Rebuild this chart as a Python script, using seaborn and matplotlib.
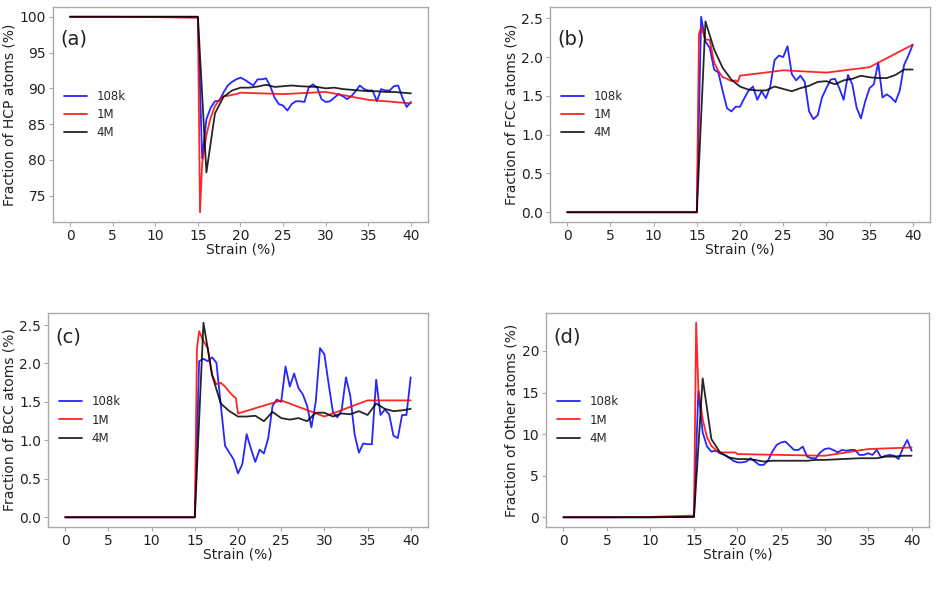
import numpy as np
import pandas as pd
import matplotlib
matplotlib.use("Agg")
import matplotlib.pyplot as plt
import seaborn as sns

# ---------------- data ----------------
x_108k = [0, 5, 10, 15, 15.5, 16, 16.5, 17, 17.5, 18, 18.5, 19, 19.5, 20, 20.5, 21, 21.5, 22,
          22.5, 23, 23.5, 24, 24.5, 25, 25.5, 26, 26.5, 27, 27.5, 28, 28.5, 29, 29.5, 30,
          30.5, 31, 31.5, 32, 32.5, 33, 33.5, 34, 34.5, 35, 35.5, 36, 36.5, 37, 37.5, 38,
          38.5, 39, 39.5, 40]
x_1M = [0, 5, 10, 15, 15.25, 15.5, 16, 16.5, 17, 17.5, 18, 18.5, 19, 19.5, 19.75, 20, 25, 30, 35, 40]
x_4M = [0, 5, 10, 15, 16, 17, 18, 19, 20, 21, 22, 23, 24, 25, 26, 27, 28, 29, 30, 31, 32,
        33, 34, 35, 36, 37, 38, 39, 40]

# (a) HCP
hcp_108k = [100, 100, 100, 100, 80.2, 85.7, 87.3, 88.2, 88.25, 89.4, 90.4, 90.9, 91.26, 91.5,
            91.2, 90.8, 90.4, 91.26, 91.26, 91.4, 90.3, 88.7, 87.8, 87.6, 86.9, 87.8, 88.2,
            88.2, 88.1, 90.1, 90.56, 90.1, 88.5, 88.1, 88.2, 88.7, 89.2, 88.9, 88.5, 88.9,
            89.6, 90.4, 89.9, 89.7, 89.7, 88.2, 89.9, 89.7, 89.7, 90.3, 90.4, 88.7, 87.4, 88.1]
hcp_1M = [100, 100, 99.95, 99.85, 72.7, 79.5, 83.5, 85.9, 87.5, 88.4, 88.9, 88.95, 89.1, 89.2,
          89.3, 89.4, 89.2, 89.5, 88.4, 87.9]
hcp_4M = [100, 100, 100, 100, 78.25, 86.5, 88.8, 89.7, 90.1, 90.1, 90.25, 90.5, 90.2, 90.3,
          90.4, 90.3, 90.25, 90.2, 90.0, 90.1, 89.9, 89.8, 89.7, 89.6, 89.6, 89.5, 89.5, 89.4, 89.3]

# (b) FCC
fcc_108k = [0, 0, 0, 0, 2.52, 2.2, 2.12, 1.84, 1.8, 1.56, 1.34, 1.3, 1.36, 1.36, 1.47, 1.57,
            1.62, 1.45, 1.56, 1.47, 1.62, 1.96, 2.02, 2.0, 2.14, 1.78, 1.7, 1.76, 1.68, 1.3,
            1.2, 1.25, 1.48, 1.6, 1.71, 1.72, 1.6, 1.45, 1.77, 1.65, 1.35, 1.21, 1.43, 1.6,
            1.65, 1.93, 1.48, 1.52, 1.48, 1.42, 1.57, 1.9, 2.02, 2.16]
fcc_1M = [0, 0, 0, 0, 2.3, 2.38, 2.23, 2.22, 1.93, 1.82, 1.74, 1.72, 1.69, 1.7, 1.68, 1.76,
          1.83, 1.8, 1.87, 2.16]
fcc_4M = [0, 0, 0, 0, 2.46, 2.1, 1.86, 1.71, 1.62, 1.58, 1.57, 1.57, 1.62, 1.59, 1.56, 1.6,
          1.63, 1.68, 1.69, 1.65, 1.7, 1.72, 1.76, 1.74, 1.73, 1.73, 1.77, 1.84, 1.84]

# (c) BCC
bcc_108k = [0, 0, 0, 0, 2.03, 2.06, 2.03, 2.08, 2.01, 1.47, 0.93, 0.84, 0.75, 0.57, 0.69, 1.08,
            0.89, 0.72, 0.88, 0.83, 1.03, 1.45, 1.53, 1.5, 1.96, 1.7, 1.87, 1.68, 1.6, 1.45,
            1.17, 1.5, 2.2, 2.12, 1.73, 1.36, 1.3, 1.39, 1.82, 1.58, 1.08, 0.84, 0.96, 0.95,
            0.95, 1.79, 1.33, 1.4, 1.34, 1.06, 1.03, 1.33, 1.33, 1.82]
bcc_1M = [0, 0, 0, 0, 2.2, 2.42, 2.29, 2.2, 1.85, 1.73, 1.75, 1.7, 1.63, 1.57, 1.55, 1.35,
          1.52, 1.31, 1.52, 1.52]
bcc_4M = [0, 0, 0, 0, 2.53, 1.85, 1.48, 1.38, 1.31, 1.31, 1.32, 1.25, 1.37, 1.29, 1.27, 1.29,
          1.25, 1.36, 1.36, 1.31, 1.35, 1.34, 1.38, 1.33, 1.48, 1.41, 1.38, 1.39, 1.41]

# (d) Other
oth_108k = [0, 0, 0, 0.05, 15.2, 10.2, 8.5, 7.9, 8.0, 7.7, 7.5, 7.2, 6.8, 6.6, 6.6, 6.7, 7.1,
            6.7, 6.3, 6.3, 6.8, 7.9, 8.7, 9.0, 9.1, 8.6, 8.1, 8.1, 8.5, 7.3, 7.1, 7.1, 7.8,
            8.2, 8.3, 8.1, 7.8, 8.1, 8.0, 8.1, 8.1, 7.5, 7.5, 7.7, 7.5, 8.1, 7.2, 7.4, 7.5,
            7.4, 7.0, 8.3, 9.3, 8.0]
oth_1M = [0, 0, 0.05, 0.2, 23.4, 15.5, 11.8, 9.6, 8.6, 8.1, 7.8, 7.8, 7.8, 7.8, 7.8, 7.6,
          7.5, 7.4, 8.2, 8.4]
oth_4M = [0, 0, 0, 0.05, 16.7, 9.4, 7.8, 7.2, 7.0, 7.0, 6.9, 6.7, 6.8, 6.8, 6.8, 6.8, 6.8,
          6.9, 6.9, 6.95, 7.0, 7.05, 7.1, 7.1, 7.1, 7.3, 7.3, 7.4, 7.4]

sizes = ["108k", "1M", "4M"]
colors = {"108k": "blue", "1M": "red", "4M": "black"}
panel_letters = ["(a)", "(b)", "(c)", "(d)"]
ylabels = ["Fraction of HCP atoms (%)", "Fraction of FCC atoms (%)",
           "Fraction of BCC atoms (%)", "Fraction of Other atoms (%)"]
panel_data = [(hcp_108k, hcp_1M, hcp_4M), (fcc_108k, fcc_1M, fcc_4M),
              (bcc_108k, bcc_1M, bcc_4M), (oth_108k, oth_1M, oth_4M)]
xgrids = [x_108k, x_1M, x_4M]

# ---------------- plot ----------------
sns.set_style("ticks")
plt.rcParams["font.family"] = ["DejaVu Sans"]
plt.rcParams["axes.edgecolor"] = "#aaaaaa"
plt.rcParams["xtick.color"] = "#aaaaaa"
plt.rcParams["ytick.color"] = "#aaaaaa"
plt.rcParams["xtick.labelcolor"] = "#222222"
plt.rcParams["ytick.labelcolor"] = "#222222"
plt.rcParams["axes.labelcolor"] = "#222222"

fig = plt.figure(figsize=(9.37, 5.95), dpi=100)
positions = [
    [53 / 937, 1 - 222 / 595, 375 / 937, 215 / 595],
    [550 / 937, 1 - 222 / 595, 380 / 937, 215 / 595],
    [48 / 937, 1 - 527 / 595, 380 / 937, 214 / 595],
    [546 / 937, 1 - 527 / 595, 383 / 937, 214 / 595],
]
label_y = [0.85, 0.85, 0.89, 0.89]
yticks = [[75, 80, 85, 90, 95, 100], [0, 0.5, 1.0, 1.5, 2.0, 2.5],
          [0, 0.5, 1.0, 1.5, 2.0, 2.5], [0, 5, 10, 15, 20]]

for i in range(4):
    ax = fig.add_axes(positions[i])
    for s, xs, ys in zip(sizes, xgrids, panel_data[i]):
        df = pd.DataFrame({"Strain": xs, "val": ys})
        sns.lineplot(data=df, x="Strain", y="val", ax=ax, color=colors[s], label=s,
                     linewidth=1.3, alpha=0.85, estimator=None, sort=False)
    ax.set_xticks([0, 5, 10, 15, 20, 25, 30, 35, 40])
    ax.set_yticks(yticks[i])
    if i in (1, 2):
        ax.set_yticklabels([f"{v:.1f}" for v in yticks[i]])
    ax.tick_params(labelsize=10, length=3, width=0.8, pad=2)
    ax.set_xlabel("Strain (%)", fontsize=10, labelpad=0)
    ax.set_ylabel(ylabels[i], fontsize=10, labelpad=2)
    for sp in ax.spines.values():
        sp.set_visible(True)
        sp.set_color("#aaaaaa")
        sp.set_linewidth(1.0)
    ax.legend(loc="center left", frameon=False, fontsize=8.5, labelspacing=0.45,
              handlelength=2.0)
    ax.text(0.02, label_y[i], panel_letters[i], transform=ax.transAxes,
            fontsize=14, va="center", ha="left", color="#222222")

fig.savefig("out.png", dpi=100)
